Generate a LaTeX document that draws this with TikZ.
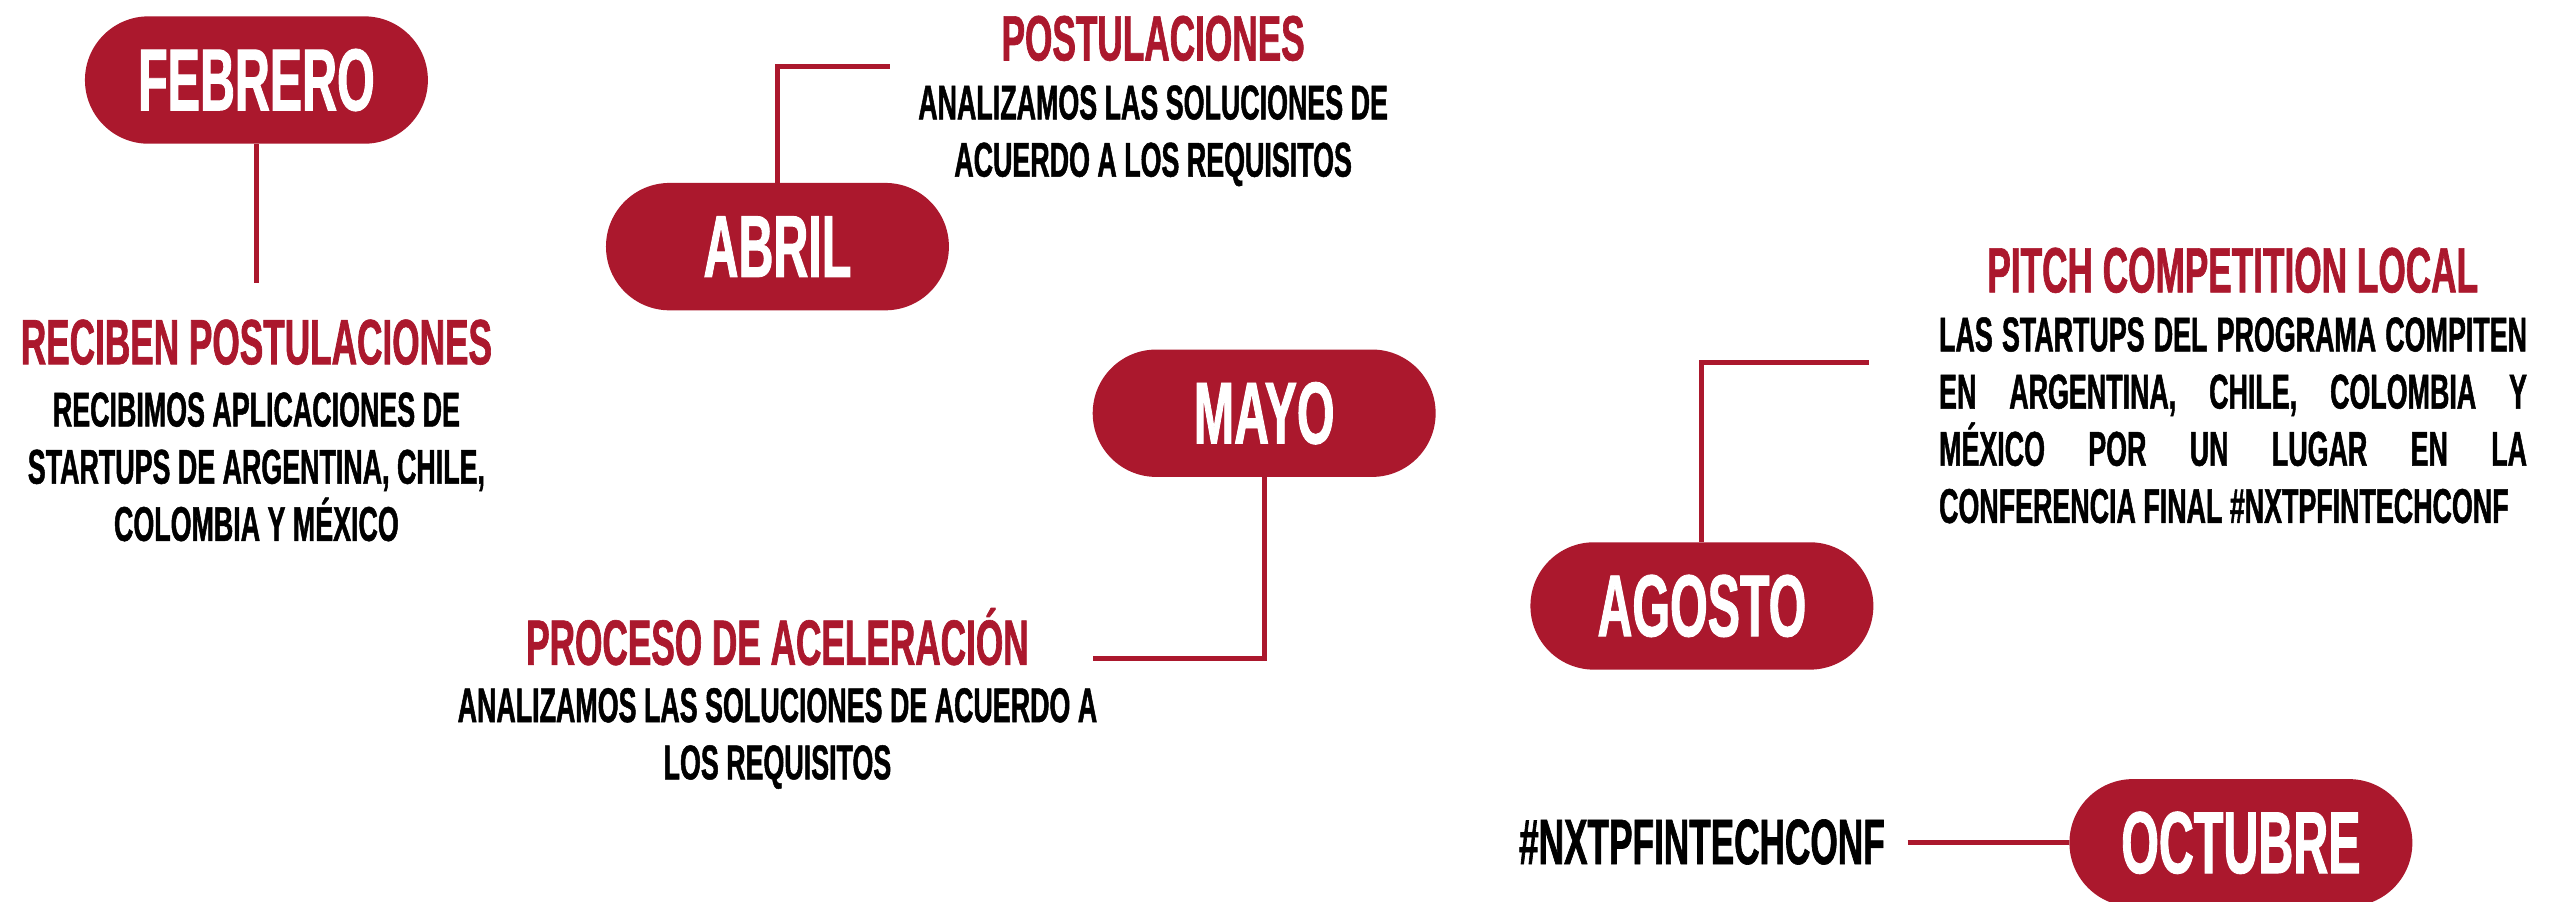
\documentclass[tikz,border=0pt]{standalone}
\usepackage{fontspec}
\setmainfont{Liberation Sans}
\newfontfamily\cnd{Liberation Sans Bold}[FakeStretch=0.55, FakeBold=1.0]
\definecolor{nxred}{HTML}{AB182D}
\tikzset{
  pill/.style={fill=nxred, text=white, rounded corners=31.8pt, minimum width=171.5pt, minimum height=63.7pt, inner sep=0pt, font=\cnd\fontsize{44}{44}\selectfont},
  head/.style={text=nxred, inner sep=0pt, font=\cnd\fontsize{32}{32}\selectfont\frenchspacing, anchor=base},
  body/.style={text=black, inner sep=0pt, font=\cnd\fontsize{24.4}{28.6}\selectfont\frenchspacing, align=center, anchor=north},
  link/.style={draw=nxred, line width=2.5pt},
}
\begin{document}
\begin{tikzpicture}[x=0.8168pt, y=-0.8168pt]
\fill[white] (0,0) rectangle (1568,552);
\useasboundingbox (0,0) rectangle (1568,552);
\clip (0,0) rectangle (1568,552);
% pills
\node[pill] (feb) at (157,49) {FEBRERO};
\node[pill] (abr) at (476,151) {ABRIL};
\node[pill] (may) at (774,253) {MAYO};
\node[pill] (ago) at (1042,371) {AGOSTO};
\node[pill] (oct) at (1372,516) {OCTUBRE};
% texts
\node[head] (h1) at (157,223) {RECIBEN POSTULACIONES};
\node[body] (b1) at (157,240) {RECIBIMOS APLICACIONES DE\\STARTUPS DE ARGENTINA, CHILE,\\COLOMBIA Y MÉXICO};
\node[head] (h2) at (706,37) {POSTULACIONES};
\node[body] (b2) at (706,52) {ANALIZAMOS LAS SOLUCIONES DE\\ACUERDO A LOS REQUISITOS};
\node[head] (h3) at (476,407) {PROCESO DE ACELERACIÓN};
\node[body] (b3) at (476,421) {ANALIZAMOS LAS SOLUCIONES DE ACUERDO A\\LOS REQUISITOS};
\node[head] (h4) at (1367,179) {PITCH COMPETITION LOCAL};
\node[body, anchor=north west, align=left] (b4) at (1187,194) {\makebox[294pt][s]{LAS STARTUPS DEL PROGRAMA COMPITEN}\\\makebox[294pt][s]{EN ARGENTINA, CHILE, COLOMBIA Y}\\\makebox[294pt][s]{MÉXICO POR UN LUGAR EN LA}\\CONFERENCIA FINAL \#NXTPFINTECHCONF};
\node[head, text=black] (h5) at (1042,529) {\#NXTPFINTECHCONF};
% connectors
\coordinate (febend) at (157,173);
\draw[link] (feb.south) -- (febend);
\coordinate (abrend) at (545,41);
\draw[link] (abr.north) |- (abrend);
\coordinate (mayend) at (669,403);
\draw[link] (may.south) |- (mayend);
\coordinate (agoend) at (1144,222);
\draw[link] (ago.north) |- (agoend);
\coordinate (octend) at (1168,516);
\draw[link] (octend) -- (oct.west);
\end{tikzpicture}
\end{document}
